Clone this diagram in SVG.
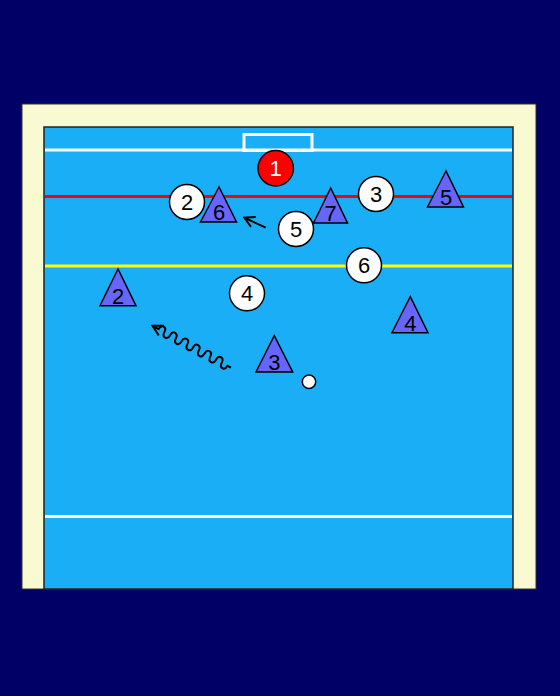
<svg xmlns="http://www.w3.org/2000/svg" width="560" height="696" viewBox="0 0 560 696">
<style>
.pc{fill:#ffffff;stroke:#000;stroke-width:1.5}
.tri{fill:#6666ff;stroke:#000;stroke-width:1.5;stroke-linejoin:miter}
.t{font-family:"Liberation Sans",Arial,sans-serif;font-size:22px;fill:#000;text-anchor:middle}
.mv{fill:none;stroke:#000;stroke-width:2}
</style>
<defs>
<marker id="ah" markerWidth="14" markerHeight="14" refX="0" refY="0" viewBox="-12 -7 14 14" orient="auto" markerUnits="userSpaceOnUse">
<path d="M-10,-5.5 L0,0 L-10,5.5" fill="none" stroke="#000" stroke-width="2"/>
</marker>
</defs>
<rect x="0" y="0" width="560" height="696" fill="#000066"/>
<g id="pool">
<rect x="22" y="104" width="514" height="485" fill="#fafad2" stroke="#333" stroke-width="1"/>
<rect x="44" y="127" width="469" height="462" fill="#1aaef7" stroke="#222" stroke-width="1.5"/>
<rect x="244" y="134.5" width="68" height="16" fill="none" stroke="#fff" stroke-width="3"/>
<line x1="45" y1="150" x2="512" y2="150" stroke="#fff" stroke-width="3"/>
<line x1="45" y1="196.5" x2="512" y2="196.5" stroke="#ff0000" stroke-width="3"/>
<line x1="45" y1="266" x2="512" y2="266" stroke="#ffff00" stroke-width="3"/>
<line x1="45" y1="516.5" x2="512" y2="516.5" stroke="#fff" stroke-width="3"/>
</g>
<g id="connectors">
<path class="mv" d="M265.7,227.7 L244.3,217.7" marker-end="url(#ah)"/>
<path class="mv" transform="translate(231,367.7) rotate(208.1)" d="M0,0 L4,0 c0,-6 6.5,-6 6.5,0 c0,6 6.5,6 6.5,0 c0,-6 6.5,-6 6.5,0 c0,6 6.5,6 6.5,0 c0,-6 6.5,-6 6.5,0 c0,6 6.5,6 6.5,0 c0,-6 6.5,-6 6.5,0 c0,6 6.5,6 6.5,0 c0,-6 6.5,-6 6.5,0 c0,6 6.5,6 6.5,0 c0,-6 6.5,-6 6.5,0 c0,6 6.5,6 6.5,0 L89,0" marker-end="url(#ah)"/>
</g>
<g id="goalie-1">
<circle cx="275.7" cy="168.3" r="17.7" fill="#ff0000" stroke="#000" stroke-width="1.5"/>
<text class="t" x="275.7" y="176" style="fill:#fff">1</text>
</g>
<g id="white-2"><circle class="pc" cx="187" cy="202" r="17.5"/><text class="t" x="187" y="209.8">2</text></g>
<g id="white-3"><circle class="pc" cx="376" cy="194" r="17.5"/><text class="t" x="376" y="201.8">3</text></g>
<g id="white-4"><circle class="pc" cx="247" cy="293.3" r="17.5"/><text class="t" x="247" y="301.1">4</text></g>
<g id="white-5"><circle class="pc" cx="296" cy="229" r="17.5"/><text class="t" x="296" y="236.8">5</text></g>
<g id="white-6"><circle class="pc" cx="364" cy="265.3" r="17.5"/><text class="t" x="364" y="273.1">6</text></g>
<g id="blue-2"><polygon class="tri" points="118,269 100,305.7 136,305.7"/><text class="t" x="118" y="303.5">2</text></g>
<g id="blue-3"><polygon class="tri" points="274.3,335.7 256,372 292.7,372"/><text class="t" x="274.3" y="370">3</text></g>
<g id="blue-4"><polygon class="tri" points="410.3,296.7 392,332.7 428,332.7"/><text class="t" x="410.3" y="330.5">4</text></g>
<g id="blue-5"><polygon class="tri" points="446,171 427.5,207 463.5,207"/><text class="t" x="446" y="205">5</text></g>
<g id="blue-6"><polygon class="tri" points="219,187 200.5,222 236.5,222"/><text class="t" x="219" y="220">6</text></g>
<g id="blue-7"><polygon class="tri" points="330.7,188 313.5,223 347.5,223"/><text class="t" x="330.7" y="221">7</text></g>
<g id="ball"><circle cx="309" cy="381.7" r="6.7" fill="#fff" stroke="#000" stroke-width="1.5"/></g>
</svg>
